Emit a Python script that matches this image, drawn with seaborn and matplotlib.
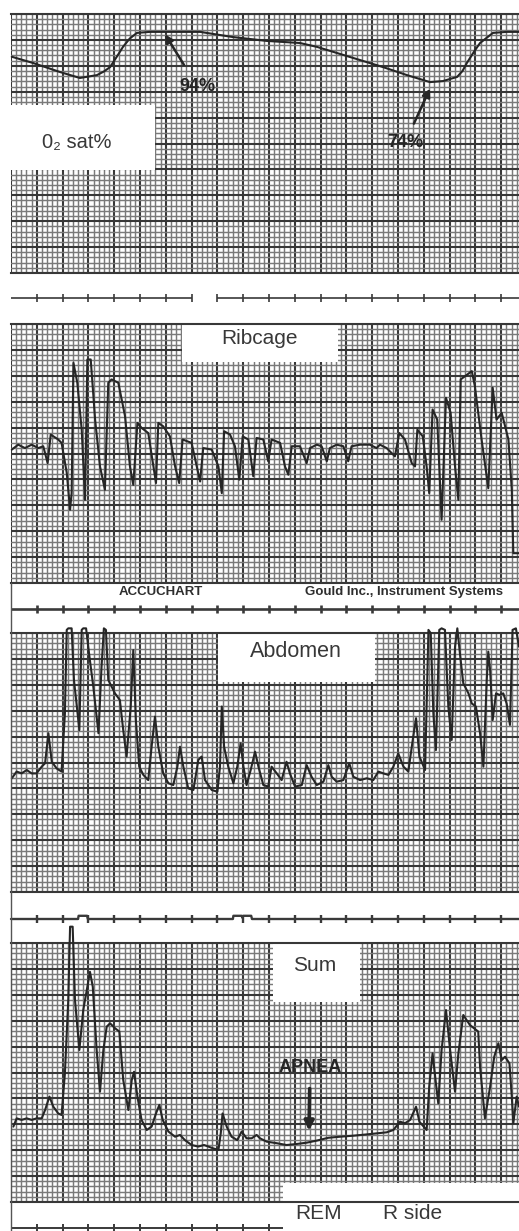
import numpy as np
import matplotlib
matplotlib.use("Agg")
import matplotlib.pyplot as plt
import seaborn as sns
from matplotlib.patches import Rectangle
from matplotlib.lines import Line2D

# ---------------- data (x in chart divisions, y in chart divisions) ----------------
o2_x = [0.03, 0.85, 1.90, 2.67, 3.33, 3.60, 3.84, 4.10, 4.34, 4.60, 4.88, 5.39, 5.89, 7.33, 8.60,
        9.92, 11.20, 11.86, 13.14, 14.42, 15.35, 16.24, 16.74, 17.29, 17.50, 17.67, 17.95, 18.18,
        18.68, 19.22, 19.69]
o2_y = [8.35, 8.11, 7.76, 7.53, 7.64, 7.78, 7.95, 8.35, 8.73, 9.05, 9.27, 9.31, 9.31, 9.31, 9.11,
        8.96, 8.88, 8.73, 8.34, 7.95, 7.64, 7.37, 7.41, 7.57, 7.80, 8.11, 8.55, 8.88,
        9.27, 9.31, 9.31]

rib_x = [0.03, 0.28, 0.54, 0.80, 1.06, 1.25, 1.42, 1.54, 1.83, 1.96, 2.16, 2.29, 2.35, 2.42, 2.57,
         2.74, 2.87, 2.96, 3.09, 3.26, 3.45, 3.64, 3.77, 3.90, 4.16, 4.42, 4.61, 4.74, 4.90, 5.06,
         5.32, 5.52, 5.62, 5.71, 5.90, 6.16, 6.36, 6.52, 6.65, 7.00, 7.20, 7.33, 7.45, 7.78, 8.04,
         8.17, 8.26, 8.49, 8.68, 8.85, 8.98, 9.20, 9.39, 9.52, 9.78, 9.97, 10.10, 10.43, 10.62,
         10.75, 10.88, 11.20, 11.46, 11.59, 11.85, 12.04, 12.24, 12.36, 12.62, 12.88, 13.07, 13.20,
         13.53, 13.91, 14.17, 14.30, 14.56, 14.88, 15.05, 15.27, 15.53, 15.66, 15.75, 15.96, 16.11,
         16.21, 16.34, 16.52, 16.69, 16.86, 17.04, 17.21, 17.34, 17.43, 17.86, 17.98, 18.24, 18.50,
         18.67, 18.82, 19.02, 19.28, 19.41, 19.47, 19.69]
rib_y = [5.15, 5.34, 5.21, 5.34, 5.21, 5.28, 4.63, 5.73, 5.54, 5.41, 4.26, 2.83, 3.47, 8.50, 7.73,
         5.92, 3.21, 8.63, 8.63, 6.31, 4.50, 3.60, 7.73, 7.86, 7.73, 6.44, 4.50, 3.79, 6.18, 5.99,
         5.79, 4.50, 3.86, 6.18, 6.05, 5.66, 4.50, 3.86, 5.54, 5.41, 4.50, 3.92, 5.21, 5.15, 4.50,
         3.47, 5.86, 5.73, 5.28, 3.99, 5.66, 5.54, 4.12, 5.60, 5.54, 4.70, 5.54, 5.41, 4.50,
         4.18, 5.28, 5.28, 4.63, 5.21, 5.34, 5.28, 4.70, 5.21, 5.34, 5.28, 4.70, 5.28,
         5.34, 5.34, 5.21, 5.34, 5.21, 4.89, 5.79, 5.54, 4.63, 4.50, 5.92, 5.66, 4.50,
         3.47, 6.70, 6.31, 2.44, 7.15, 6.57, 4.50, 3.21, 7.86, 8.18, 7.60, 5.54, 3.66,
         7.54, 6.31, 6.57, 5.54, 3.60, 1.15, 1.15]

abd_x = [0.03, 0.22, 0.41, 0.61, 0.80, 0.99, 1.19, 1.32, 1.45, 1.58, 1.77, 1.96, 2.09, 2.16, 2.22,
         2.35, 2.44, 2.65, 2.74, 2.80, 2.91, 3.04, 3.19, 3.39, 3.51, 3.60, 3.68, 3.77, 4.03, 4.22,
         4.35, 4.48, 4.64, 4.74, 4.84, 4.97, 5.13, 5.32, 5.45, 5.58, 5.71, 5.90, 6.10, 6.29, 6.45,
         6.55, 6.68, 6.87, 7.07, 7.26, 7.39, 7.52, 7.78, 8.00, 8.10, 8.17, 8.26, 8.42, 8.62, 8.77,
         8.90, 9.01, 9.13, 9.29, 9.46, 9.59, 9.78, 9.97, 10.10, 10.30, 10.49, 10.68, 10.81, 11.01,
         11.27, 11.46, 11.65, 11.85, 12.11, 12.30, 12.43, 12.62, 12.88, 13.11, 13.27, 13.53, 13.79,
         14.04, 14.24, 14.43, 14.63, 14.82, 15.01, 15.21, 15.40, 15.59, 15.70, 15.83, 16.05, 16.18,
         16.27, 16.37, 16.47, 16.60, 16.69, 16.82, 16.95, 17.08, 17.21, 17.30, 17.40, 17.53, 17.73,
         17.86, 18.02, 18.18, 18.31, 18.44, 18.50, 18.57, 18.67, 18.80, 18.93, 19.08, 19.21, 19.34,
         19.44, 19.57, 19.69]
abd_y = [4.39, 4.65, 4.58, 4.71, 4.58, 4.58, 4.84, 4.97, 6.13, 5.03, 4.77, 4.65, 6.90, 10.12, 10.18,
         10.18, 8.19, 6.25, 10.12, 10.18, 10.18, 9.09, 7.93, 6.13, 8.70, 10.18, 10.12, 8.19, 7.67, 7.41,
         6.25, 5.23, 7.16, 9.34, 6.64, 4.84, 4.52, 4.32, 5.61, 6.77, 5.61, 4.58, 4.20, 4.13, 4.84,
         5.61, 4.84, 4.00, 3.94, 5.10, 5.23, 4.32, 3.94, 3.87, 4.84, 7.16, 5.61, 4.84, 4.20, 4.84,
         5.74, 4.84, 4.13, 4.71, 5.42, 4.84, 4.13, 4.07, 4.84, 4.58, 4.32, 5.03, 4.58, 4.07,
         4.13, 4.90, 4.45, 4.13, 4.26, 4.90, 4.45, 4.26, 4.32, 4.97, 4.45, 4.32, 4.39,
         4.32, 4.65, 4.58, 4.52, 4.84, 5.35, 4.84, 4.65, 6.00, 6.71, 5.23, 4.71, 10.12,
         9.99, 6.90, 5.48, 10.12, 10.18, 10.12, 7.16, 5.87, 9.47, 10.18, 9.21, 8.06, 7.67,
         7.28, 7.16, 6.13, 4.84, 8.19, 9.28, 8.57, 6.64, 7.67, 7.61, 7.67, 7.28, 6.45,
         10.12, 10.18, 9.47]

sum_x = [0.09, 0.22, 0.41, 0.61, 0.80, 0.99, 1.19, 1.32, 1.49, 1.64, 1.83, 1.96, 2.09, 2.22, 2.29,
         2.39, 2.48, 2.65, 2.80, 2.96, 3.06, 3.17, 3.32, 3.45, 3.58, 3.71, 3.84, 4.03, 4.20, 4.35,
         4.55, 4.68, 4.77, 4.90, 5.06, 5.26, 5.45, 5.62, 5.75, 5.88, 6.10, 6.36, 6.55, 6.74, 7.00,
         7.26, 7.48, 7.65, 7.84, 8.04, 8.13, 8.20, 8.36, 8.55, 8.77, 8.94, 9.13, 9.33, 9.52, 9.65,
         9.91, 10.30, 10.68, 11.07, 11.46, 11.85, 12.30, 12.75, 13.27, 13.79, 14.17, 14.56, 14.82,
         15.08, 15.27, 15.47, 15.70, 15.83, 16.11, 16.21, 16.34, 16.47, 16.56, 16.69, 16.86, 17.02,
         17.21, 17.34, 17.53, 17.79, 18.11, 18.18, 18.37, 18.57, 18.73, 18.89, 19.02, 19.15, 19.32,
         19.41, 19.47, 19.60, 19.69]
sum_y = [2.91, 3.23, 3.17, 3.23, 3.17, 3.23, 3.23, 3.55, 4.07, 3.68, 3.42, 3.36, 4.97, 7.80, 10.63,
         10.63, 7.80, 5.87, 7.41, 8.31, 8.89, 8.31, 5.87, 4.26, 5.87, 6.77, 6.90, 6.71, 6.58, 4.71,
         3.55, 4.71, 5.03, 4.07, 3.17, 2.78, 2.91, 3.42, 3.75, 3.17, 2.72, 2.52, 2.59, 2.39, 2.20,
         2.14, 2.20, 2.14, 2.07, 2.01, 2.65, 3.42, 2.91, 2.52, 2.39, 2.72, 2.46, 2.46, 2.59, 2.46,
         2.33, 2.27, 2.20, 2.24, 2.29, 2.37, 2.48, 2.52, 2.56, 2.61, 2.65, 2.69, 2.78,
         3.10, 3.04, 3.17, 3.68, 3.10, 2.78, 4.45, 5.74, 4.58, 3.81, 5.87, 7.41, 5.87,
         4.26, 5.74, 7.22, 6.83, 6.58, 5.23, 3.23, 4.45, 5.61, 6.13, 5.48, 5.61, 5.35,
         4.07, 3.04, 4.07, 3.68]

# event-marker channel (strip between Abdomen and Sum)
event_x = [0.0, 2.60, 2.62, 2.95, 2.98, 8.60, 8.62, 8.94, 8.97, 9.00, 9.31, 9.34, 19.69]
event_y = [0.0, 0.0, 0.32, 0.32, 0.0, 0.0, 0.32, 0.32, 0.12, 0.32, 0.32, 0.0, 0.0]

time_ticks = list(range(1, 20))

# ---------------- layout ----------------
sns.set_theme(style="white")
plt.rcParams["font.family"] = ["Liberation Sans", "DejaVu Sans"]

W, H = 519, 1231
LEFT = 11
X_MAX = 19.69
INK = "#262626"
TXT = "#383838"
MINOR = "#7a7a7a"
MAJOR = "#383838"

fig = plt.figure(figsize=(W / 100, H / 100), dpi=100)
fig.patch.set_facecolor("white")


def rect(top, bottom):
    return [LEFT / W, 1 - bottom / H, (W - LEFT) / W, (bottom - top) / H]


def paper(top, bottom):
    ax = fig.add_axes(rect(top, bottom))
    ax.set_facecolor("none")
    ax.set_xlim(0, X_MAX)
    ax.set_ylim(0, 10)
    ax.set_xticks(np.arange(0, 20, 1))
    ax.set_xticks(np.arange(0, X_MAX, 0.2), minor=True)
    ax.set_yticks(np.arange(0, 11, 1))
    ax.set_yticks(np.arange(0, 10.01, 0.2), minor=True)
    ax.grid(which="minor", color=MINOR, lw=1.05)
    ax.grid(which="major", color=MAJOR, lw=1.5)
    ax.set_axisbelow(True)
    ax.tick_params(which="both", length=0, labelbottom=False, labelleft=False)
    for side, sp in ax.spines.items():
        sp.set_visible(side in ("top", "bottom"))
        sp.set_color(MAJOR)
        sp.set_linewidth(1.5)
    return ax


def trace(ax, xs, ys):
    sns.lineplot(x=xs, y=ys, ax=ax, color=INK, lw=1.5, sort=False, estimator=None)
    for ln in ax.lines:
        ln.set_clip_on(False)
        ln.set_zorder(3)


def box(ax, x0, x1, y0, y1):
    ax.add_patch(Rectangle((x0, y0), x1 - x0, y1 - y0, facecolor="white",
                           edgecolor="none", zorder=2.5, clip_on=False))


def strip(center, segments, ticks, lw, xs=None, ys=None):
    ax = fig.add_axes([LEFT / W, 1 - (center + 10) / H, (W - LEFT) / W, 20 / H])
    ax.set_xlim(0, X_MAX)
    ax.set_ylim(-1, 1)
    ax.axis("off")
    if xs is not None:
        sns.lineplot(x=xs, y=ys, ax=ax, color="#3a3a3a", lw=lw, sort=False, estimator=None)
    for a, b in segments:
        ax.plot([a, b], [0, 0], color="#3a3a3a", lw=lw, solid_capstyle="butt")
    ax.vlines(ticks, -0.42, 0.42, color="#3a3a3a", lw=lw)
    for ln in ax.lines:
        ln.set_clip_on(False)
    return ax


ANN = dict(fontsize=13, fontweight="heavy", color="#262626", zorder=4,
           ha="center", va="center")

# Panel 1: O2 saturation
ax1 = paper(14, 273)
trace(ax1, o2_x, o2_y)
box(ax1, 0, 5.58, 3.98, 6.49)
ax1.text(2.56, 5.05, "0₂ sat%", ha="center", va="center", fontsize=14.5, color=TXT, zorder=4)
ax1.annotate("94%", xy=(5.97, 9.22), xytext=(7.21, 7.22), **ANN,
             arrowprops=dict(arrowstyle="-|>", color="#262626", lw=1.8, mutation_scale=12,
                             shrinkA=8, shrinkB=0))
ax1.annotate("74%", xy=(16.24, 7.12), xytext=(15.27, 5.02), **ANN,
             arrowprops=dict(arrowstyle="-|>", color="#262626", lw=1.8, mutation_scale=12,
                             shrinkA=6, shrinkB=0))

# time strip 1
strip(298, [(0, 7.02), (8.0, X_MAX)], time_ticks, 1.2)

# Panel 2: Ribcage
ax2 = paper(324, 583)
trace(ax2, rib_x, rib_y)
box(ax2, 6.63, 12.67, 8.53, 10.02)
ax2.text(9.65, 9.45, "Ribcage", ha="center", va="center", fontsize=15, color=TXT, zorder=4)
ax2.text(5.81, -0.36, "ACCUCHART", ha="center", va="center", fontsize=9.5,
         fontweight="bold", color="#2e2e2e")
ax2.text(11.40, -0.36, "Gould Inc., Instrument Systems", ha="left", va="center",
         fontsize=9.5, fontweight="bold", color="#2e2e2e", clip_on=False)

# time strip 2
strip(609, [(0, X_MAX)], time_ticks, 1.9)

# Panel 3: Abdomen
ax3 = paper(633, 892)
trace(ax3, abd_x, abd_y)
box(ax3, 8.02, 14.11, 8.11, 10.02)
ax3.text(11.05, 9.28, "Abdomen", ha="center", va="center", fontsize=15.5, color=TXT, zorder=4)

# event strip 3
strip(919, [], time_ticks, 1.7, event_x, event_y)

# Panel 4: Sum
ax4 = paper(943, 1202)
trace(ax4, sum_x, sum_y)
box(ax4, 10.16, 13.53, 7.72, 10.02)
box(ax4, 10.54, X_MAX, -1.2, 0.73)
ax4.text(11.78, 9.12, "Sum", ha="center", va="center", fontsize=15, color=TXT, zorder=4)
ax4.text(11.94, -0.45, "REM", ha="center", va="center", fontsize=15, color=TXT, zorder=4,
         clip_on=False)
ax4.text(15.58, -0.45, "R side", ha="center", va="center", fontsize=15, color=TXT, zorder=4,
         clip_on=False)
ax4.annotate("APNEA", xy=(11.55, 2.75), xytext=(11.59, 5.21), **ANN,
             arrowprops=dict(arrowstyle="-|>", color="#262626", lw=2.6, mutation_scale=14,
                             shrinkA=7, shrinkB=0))

# bottom time strip (partly hidden by label box)
strip(1228, [(0, 10.54)], [t for t in time_ticks if t <= 10], 1.4)

# left border line of lower chart section
fig.add_artist(Line2D([LEFT / W, LEFT / W], [1 - 583 / H, 0], color="#555555", lw=1.0))

fig.savefig("out.png", dpi=100, facecolor="white")
